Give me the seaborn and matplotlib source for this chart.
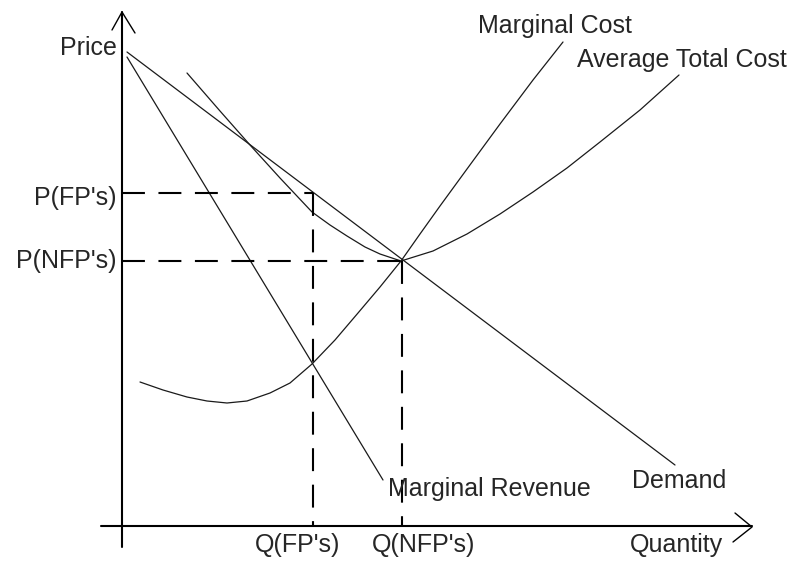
import matplotlib
matplotlib.use("Agg")
import matplotlib.pyplot as plt
import seaborn as sns

sns.set_style("white")
plt.rcParams["font.family"] = ["Liberation Sans", "DejaVu Sans"]

# curve points (quantity, price), origin at axes corner
demand_q = [5, 553]
demand_p = [474, 61]

mr_q = [5, 261]
mr_p = [469, 46]

mc_q = [18, 41, 65, 85, 105, 125, 148, 168, 190, 213, 236, 258, 279, 298, 318, 345, 378, 411, 441]
mc_p = [144, 136, 129, 125, 123, 125, 133, 143, 162, 186, 213, 239, 265, 292, 320, 357, 402, 446, 484]

atc_q = [65, 98, 128, 158, 190, 208, 225, 243, 258, 270, 279, 311, 345, 378, 411, 445, 478, 518, 557]
atc_p = [453, 415, 381, 348, 314, 301, 290, 279, 272, 268, 265, 275, 292, 312, 334, 358, 384, 416, 451]

# profit-max (FP) and zero-profit (NFP) points
q_fp, p_fp = 191, 333
q_nfp, p_nfp = 280, 265

fig = plt.figure(figsize=(7.99, 5.61), dpi=100)
ax = fig.add_axes([0, 0, 1, 1])
ax.set_xlim(-122, 677)
ax.set_ylim(-35, 526)
ax.axis("off")

curve_kw = dict(color="#1a1a1a", linewidth=0.9, sort=False, estimator=None, legend=False)
sns.lineplot(x=demand_q, y=demand_p, ax=ax, **curve_kw)
sns.lineplot(x=mr_q, y=mr_p, ax=ax, **curve_kw)
sns.lineplot(x=mc_q, y=mc_p, ax=ax, **curve_kw)
sns.lineplot(x=atc_q, y=atc_p, ax=ax, **curve_kw)

# dashed guide lines
dash_kw = dict(color="black", linewidth=1.5, dashes=(11, 6.5))
ax.plot([0, q_fp], [p_fp, p_fp], **dash_kw)
ax.plot([q_fp, q_fp], [p_fp, 0], **dash_kw)
ax.plot([0, q_nfp], [p_nfp, p_nfp], **dash_kw)
ax.plot([q_nfp, q_nfp], [p_nfp, 0], **dash_kw)

# axes with open arrow heads
ax.plot([0, 0], [-21, 514], color="black", linewidth=1.5)
ax.plot([-21, 630], [0, 0], color="black", linewidth=1.5)
ax.plot([-10, 0, 13], [496, 514, 493], color="black", linewidth=1.0)
ax.plot([613, 630, 611], [13, -1, -16], color="black", linewidth=1.0)

fs = 18
ax.text(-5, 471, "Price", ha="right", va="baseline", fontsize=fs)
ax.text(-5, 321, "P(FP's)", ha="right", va="baseline", fontsize=fs)
ax.text(-5, 258, "P(NFP's)", ha="right", va="baseline", fontsize=fs)
ax.text(133, -26, "Q(FP's)", ha="left", va="baseline", fontsize=fs)
ax.text(250, -26, "Q(NFP's)", ha="left", va="baseline", fontsize=fs)
ax.text(508, -26, "Quantity", ha="left", va="baseline", fontsize=fs)
ax.text(510, 38, "Demand", ha="left", va="baseline", fontsize=fs)
ax.text(266, 30, "Marginal Revenue", ha="left", va="baseline", fontsize=fs)
ax.text(356, 493, "Marginal Cost", ha="left", va="baseline", fontsize=fs)
ax.text(455, 459, "Average Total Cost", ha="left", va="baseline", fontsize=fs)

fig.savefig("out.png", dpi=100)
